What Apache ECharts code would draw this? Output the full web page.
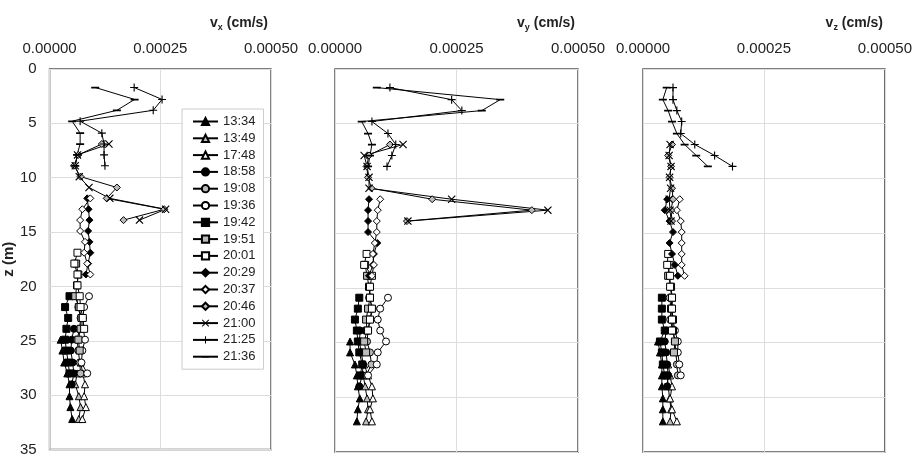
<!DOCTYPE html>
<html>
<head>
<meta charset="utf-8">
<script src="https://cdn.jsdelivr.net/npm/echarts@6/dist/echarts.min.js"></script>
</head>
<body style="margin:0;background:#fff">
<div id='main' style="width:915px;height:457px;"></div>
<script>
// depth (m) of every sample, per measuring time
var d1334 = [24.9, 25.9, 27.0, 28.0, 29.0, 30.1, 31.1, 32.2];
var d1349 = [28.0, 29.0, 30.1, 31.1, 32.2];
var d1748 = [27.0, 28.0, 29.0, 30.1, 31.1, 32.2];
var d1858 = [23.9, 24.9, 25.9, 27.0, 28.0, 29.0];
var d1908 = [20.9, 21.9, 22.9, 23.9, 24.9, 25.9, 27.0, 28.0];
var d1936 = [20.9, 21.9, 22.9, 23.9, 24.9, 25.9, 27.0, 28.0];
var d1942 = [20.9, 21.9, 22.9, 23.9, 24.9, 25.9, 27.0, 28.0];
var d1951 = [17.9, 18.9, 19.9, 20.9, 21.9, 22.9, 23.9, 24.9, 25.9];
var d2001 = [16.9, 17.9, 18.9, 19.9, 20.9, 21.9, 22.9, 23.9];
var d2029 = [11.9, 12.9, 13.9, 14.9, 15.9, 16.9, 17.9, 18.9];
var d2037 = [11.9, 12.9, 13.9, 14.9, 15.9, 16.9, 17.9, 18.9];
var d2046 = [6.9, 7.9, 8.9, 9.9, 10.9, 11.9, 12.9, 13.9];
var d2100 = [6.9, 7.9, 8.9, 9.9, 10.9, 11.9, 12.9, 13.9];
var d2125 = [1.7, 2.8, 3.8, 4.8, 5.9, 6.9, 7.9, 8.9];
var d2136 = [1.7, 2.8, 3.8, 4.8, 5.9, 6.9, 7.9, 8.9];

// vx (cm/s)
var vx1334 = [0.000025, 0.000029, 0.000033, 0.000040, 0.000045, 0.000045, 0.000047, 0.000051];
var vx1349 = [0.000062, 0.000058, 0.000066, 0.000070, 0.000066];
var vx1748 = [0.000070, 0.000075, 0.000080, 0.000078, 0.000082, 0.000074];
var vx1858 = [0.000055, 0.000050, 0.000048, 0.000052, 0.000055, 0.000050];
var vx1908 = [0.000060, 0.000065, 0.000070, 0.000068, 0.000062, 0.000065, 0.000068, 0.000070];
var vx1936 = [0.000089, 0.000078, 0.000075, 0.000076, 0.000080, 0.000074, 0.000072, 0.000085];
var vx1942 = [0.000045, 0.000035, 0.000042, 0.000038, 0.000035, 0.000038, 0.000042, 0.000045];
var vx1951 = [0.000060, 0.000065, 0.000062, 0.000058, 0.000066, 0.000072, 0.000070, 0.000065, 0.000068];
var vx2001 = [0.000063, 0.000056, 0.000063, 0.000063, 0.000068, 0.000070, 0.000075, 0.000078];
var vx2029 = [0.000085, 0.000088, 0.000090, 0.000087, 0.000090, 0.000092, 0.000087, 0.000082];
var vx2037 = [0.000092, 0.000074, 0.000069, 0.000069, 0.000080, 0.000078, 0.000085, 0.000092];
var vx2046 = [0.000118, 0.000065, 0.000055, 0.000070, 0.000152, 0.000129, 0.000259, 0.000167];
var vx2100 = [0.000134, 0.000063, 0.000058, 0.000067, 0.000089, 0.000136, 0.000262, 0.000203];
var vx2125 = [0.000191, 0.000254, 0.000234, 0.000069, 0.000118, 0.000123, 0.000123, 0.000125];
var vx2136 = [0.000103, 0.000192, 0.000152, 0.000051, 0.000069, 0.000069, 0.000062, 0.000058];

// vy (cm/s)
var vy1334 = [0.000031, 0.000031, 0.000041, 0.000045, 0.000047, 0.000051, 0.000047, 0.000045];
var vy1349 = [0.000058, 0.000062, 0.000066, 0.000068, 0.000064];
var vy1748 = [0.000060, 0.000068, 0.000076, 0.000078, 0.000072, 0.000076];
var vy1858 = [0.000052, 0.000050, 0.000054, 0.000058, 0.000056, 0.000050];
var vy1908 = [0.000070, 0.000078, 0.000072, 0.000068, 0.000066, 0.000072, 0.000075, 0.000064];
var vy1936 = [0.000109, 0.000093, 0.000088, 0.000093, 0.000105, 0.000088, 0.000086, 0.000068];
var vy1942 = [0.000050, 0.000047, 0.000041, 0.000045, 0.000047, 0.000050, 0.000056, 0.000052];
var vy1951 = [0.000062, 0.000066, 0.000070, 0.000072, 0.000068, 0.000064, 0.000066, 0.000060, 0.000064];
var vy2001 = [0.000065, 0.000060, 0.000076, 0.000072, 0.000072, 0.000076, 0.000072, 0.000068];
var vy2029 = [0.000070, 0.000068, 0.000068, 0.000068, 0.000087, 0.000080, 0.000078, 0.000070];
var vy2037 = [0.000093, 0.000088, 0.000086, 0.000086, 0.000082, 0.000078, 0.000080, 0.000076];
var vy2046 = [0.000113, 0.000070, 0.000065, 0.000068, 0.000075, 0.000200, 0.000405, 0.000148];
var vy2100 = [0.000140, 0.000060, 0.000066, 0.000070, 0.000070, 0.000240, 0.000438, 0.000150];
var vy2125 = [0.000113, 0.000240, 0.000261, 0.000076, 0.000109, 0.000125, 0.000117, 0.000107];
var vy2136 = [0.000086, 0.000340, 0.000302, 0.000055, 0.000068, 0.000076, 0.000072, 0.000068];

// vz (cm/s)
var vz1334 = [0.000031, 0.000035, 0.000039, 0.000039, 0.000039, 0.000041, 0.000041, 0.000041];
var vz1349 = [0.000050, 0.000052, 0.000055, 0.000058, 0.000056];
var vz1748 = [0.000052, 0.000056, 0.000060, 0.000056, 0.000060, 0.000070];
var vz1858 = [0.000048, 0.000045, 0.000048, 0.000050, 0.000052, 0.000050];
var vz1908 = [0.000055, 0.000058, 0.000056, 0.000062, 0.000066, 0.000068, 0.000070, 0.000072];
var vz1936 = [0.000060, 0.000060, 0.000062, 0.000066, 0.000072, 0.000072, 0.000075, 0.000078];
var vz1942 = [0.000039, 0.000039, 0.000039, 0.000045, 0.000035, 0.000039, 0.000041, 0.000045];
var vz1951 = [0.000055, 0.000052, 0.000058, 0.000060, 0.000058, 0.000062, 0.000062, 0.000066, 0.000064];
var vz2001 = [0.000052, 0.000050, 0.000056, 0.000056, 0.000060, 0.000060, 0.000060, 0.000060];
var vz2029 = [0.000050, 0.000045, 0.000055, 0.000062, 0.000055, 0.000060, 0.000066, 0.000072];
var vz2037 = [0.000076, 0.000070, 0.000078, 0.000080, 0.000080, 0.000080, 0.000080, 0.000086];
var vz2046 = [0.000060, 0.000052, 0.000058, 0.000055, 0.000060, 0.000062, 0.000058, 0.000060];
var vz2100 = [0.000056, 0.000054, 0.000058, 0.000055, 0.000057, 0.000054, 0.000056, 0.000058];
var vz2125 = [0.000062, 0.000062, 0.000070, 0.000080, 0.000078, 0.000107, 0.000148, 0.000185];
var vz2136 = [0.000049, 0.000041, 0.000052, 0.000060, 0.000070, 0.000086, 0.000110, 0.000134];

var times = ['13:34', '13:49', '17:48', '18:58', '19:08', '19:36', '19:42', '19:51',
             '20:01', '20:29', '20:37', '20:46', '21:00', '21:25', '21:36'];
var depths = [d1334, d1349, d1748, d1858, d1908, d1936, d1942, d1951, d2001, d2029, d2037, d2046, d2100, d2125, d2136];
var vxs = [vx1334, vx1349, vx1748, vx1858, vx1908, vx1936, vx1942, vx1951, vx2001, vx2029, vx2037, vx2046, vx2100, vx2125, vx2136];
var vys = [vy1334, vy1349, vy1748, vy1858, vy1908, vy1936, vy1942, vy1951, vy2001, vy2029, vy2037, vy2046, vy2100, vy2125, vy2136];
var vzs = [vz1334, vz1349, vz1748, vz1858, vz1908, vz1936, vz1942, vz1951, vz2001, vz2029, vz2037, vz2046, vz2100, vz2125, vz2136];

var CROSS = 'path://M0,1 L1,0 L5,4 L9,0 L10,1 L6,5 L10,9 L9,10 L5,6 L1,10 L0,9 L4,5 Z';
var PLUS = 'path://M4.3,0 L5.7,0 L5.7,4.3 L10,4.3 L10,5.7 L5.7,5.7 L5.7,10 L4.3,10 L4.3,5.7 L0,5.7 L0,4.3 L4.3,4.3 Z';
var DASH = 'path://M0,0 L0.01,0 L0.01,0.01 Z M0,4 L10,4 L10,6.2 L0,6.2 Z M0,10 L0.01,10 L0.01,9.99 Z';

var markers = [
  ['triangle', '#000'], ['triangle', '#bbb'], ['triangle', '#fff'],
  ['circle', '#000'], ['circle', '#bbb'], ['circle', '#fff'],
  ['rect', '#000'], ['rect', '#bbb'], ['rect', '#fff'],
  ['diamond', '#000'], ['diamond', '#fff'], ['diamond', '#bbb'],
  [CROSS, '#000'], [PLUS, '#000'], [DASH, '#000']
];

var FONT = 'Liberation Sans, Arial, sans-serif';
var lefts = [47, 335, 643];
var widths = [224, 243, 243];
var subs = ['x', 'y', 'z'];
var comps = [vxs, vys, vzs];

var chartDom = document.getElementById('main');
var myChart = echarts.init(chartDom);

var grids = [], xAxes = [], yAxes = [], titles = [], series = [];
for (var p = 0; p < 3; p++) {
  grids.push({left: lefts[p], top: 69, width: widths[p], height: 383,
    show: true, borderColor: '#555', borderWidth: 1.5, backgroundColor: '#fff'});
  xAxes.push({
    type: 'value', gridIndex: p, position: 'top', min: 0, max: 0.0005, interval: 0.00025,
    axisLine: {show: false}, axisTick: {show: false},
    axisLabel: {margin: 13, fontSize: 15, color: '#222', fontFamily: FONT,
      formatter: function (v) { return v.toFixed(5); }},
    splitLine: {lineStyle: {color: '#ddd', width: 1}}
  });
  yAxes.push({
    type: 'value', gridIndex: p, inverse: true, min: 0, max: 35, interval: 5,
    axisLine: {show: false}, axisTick: {show: false},
    axisLabel: {show: p === 0, margin: 13, fontSize: 15, color: '#222', fontFamily: FONT},
    splitLine: {lineStyle: {color: '#ddd', width: 1}},
    name: p === 0 ? 'z (m)' : '', nameLocation: 'middle', nameGap: 24, nameRotate: 90,
    nameTextStyle: {fontSize: 15, fontWeight: 'bold', color: '#222', fontFamily: FONT}
  });
  titles.push({
    text: '{a|v}{s|' + subs[p] + '}{a| (cm/s)}',
    right: 915 - (lefts[p] + widths[p]) + 3, top: 15, padding: 0,
    textStyle: {rich: {
      a: {fontSize: 14, fontWeight: 'bold', color: '#222', fontFamily: FONT},
      s: {fontSize: 9, fontWeight: 'bold', color: '#222', fontFamily: FONT, padding: [8, 0, 0, 0]}
    }}
  });
  for (var i = 0; i < times.length; i++) {
    var pts = [];
    for (var k = 0; k < depths[i].length; k++) pts.push([comps[p][i][k], depths[i][k]]);
    var m = markers[i];
    var isPath = m[0].indexOf('path://') === 0;
    series.push({
      name: times[i], type: 'line', xAxisIndex: p, yAxisIndex: p,
      data: pts, symbol: m[0], symbolSize: isPath ? 8 : 7, showSymbol: true,
      lineStyle: {color: '#000', width: 1},
      itemStyle: {color: m[1], borderColor: '#000', borderWidth: isPath ? 0 : 1},
      emphasis: {disabled: true}
    });
  }
}

var option = {
  animation: false,
  backgroundColor: '#fff',
  title: titles,
  grid: grids,
  xAxis: xAxes,
  yAxis: yAxes,
  legend: {
    data: times, orient: 'vertical', left: 182, top: 109,
    padding: [6, 8, 6, 10], itemGap: 3.8, itemWidth: 25, itemHeight: 9,
    backgroundColor: '#fff', borderColor: '#ccc', borderWidth: 1,
    textStyle: {fontSize: 13, color: '#222', fontFamily: FONT, lineHeight: 13}
  },
  series: series
};

option && myChart.setOption(option);
</script>
</body>
</html>
